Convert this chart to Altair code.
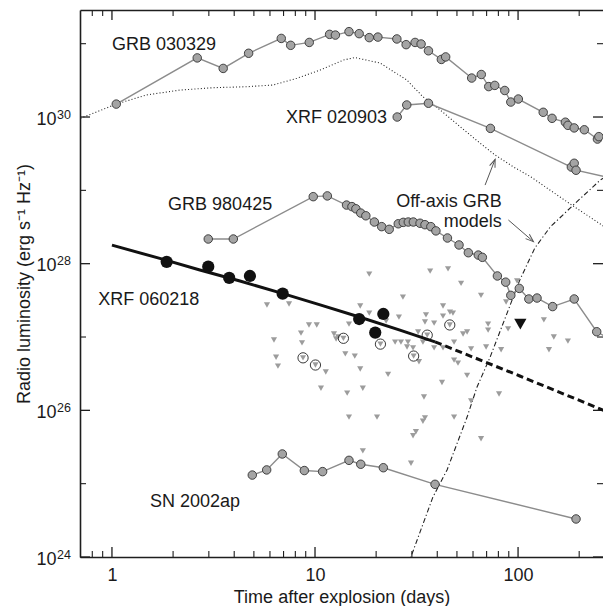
import altair as alt
import pandas as pd

FONT = "Liberation Sans"
W, H = 523, 547
X_DOMAIN = [0.696, 262]
Y_DOMAIN = [1e24, 2.88e31]

# ---------------- data (days, erg s^-1 Hz^-1) ----------------
grb030329_t = [1.05, 2.63, 3.53, 4.71, 6.82, 7.59, 9.37, 11.8, 12.6, 14.7,
               16.5, 18.5, 20.4, 25.3, 28.1, 31.1, 33.3, 36.2, 41.9, 44.0,
               59.1, 65.9, 71.7, 76.8, 86.0, 92.1, 100.3, 133, 147, 171,
               176, 189, 212, 246, 250, 318]
grb030329_L = [1.5e30, 6.4e30, 4.6e30, 7.4e30, 1.18e31, 9.5e30, 1.04e31, 1.34e31, 1.31e31, 1.46e31,
               1.37e31, 1.21e31, 1.23e31, 1.16e31, 9.7e30, 1.04e31, 9.9e30, 8.0e30, 6.1e30, 6.6e30,
               3.4e30, 3.8e30, 2.6e30, 2.7e30, 2.3e30, 1.6e30, 1.76e30, 1.16e30, 9.6e29, 8.5e29,
               7.7e29, 7.1e29, 6.7e29, 5.0e29, 5.4e29, 5.2e29]

xrf020903_t = [25.4, 28.3, 36.2, 73.1, 183, 189, 193, 318]
xrf020903_L = [1.0e30, 1.46e30, 1.54e30, 7.0e29, 2.08e29, 2.34e29, 1.88e29, 1.38e29]

grb980425_t = [2.98, 3.96, 9.8, 11.5, 14.3, 15.2, 15.9, 16.8, 17.8, 19.6,
               21.3, 23.2, 25.7, 27.2, 28.8, 30.5, 32.9, 34.8, 37.2, 39.4,
               44.9, 51.2, 56.9, 63.7, 66.7, 79.1, 86.9, 92.1, 101.4, 113,
               124, 148, 189, 244, 318]
grb980425_L = [2.17e28, 2.17e28, 8.2e28, 8.4e28, 6.3e28, 6.0e28, 5.6e28, 4.9e28, 4.5e28, 3.7e28,
               3.2e28, 2.94e28, 3.5e28, 3.66e28, 3.7e28, 3.7e28, 3.56e28, 3.4e28, 3.2e28, 2.8e28,
               2.24e28, 1.8e28, 1.41e28, 1.31e28, 1.22e28, 6.8e27, 5.6e27, 3.7e27, 4.6e27, 3.3e27,
               3.4e27, 2.6e27, 3.3e27, 1.18e27, 7.8e26]

sn2002ap_t = [4.91, 5.78, 6.90, 8.86, 10.9, 14.7, 16.8, 21.7, 39.0, 193]
sn2002ap_L = [1.31e25, 1.54e25, 2.54e25, 1.51e25, 1.46e25, 2.08e25, 1.84e25, 1.65e25, 9.8e24, 3.3e24]

xrf060218_t = [1.86, 2.98, 3.78, 4.78, 6.93, 16.5, 21.7, 19.8]
xrf060218_L = [1.06e28, 9.1e27, 6.4e27, 6.8e27, 3.9e27, 1.76e27, 2.06e27, 1.15e27]

fit_solid_t = [1.0, 1.72, 2.71, 4.27, 6.96, 10.6, 16.7, 26.2, 39.0]
fit_solid_L = [1.79e28, 1.18e28, 8.2e27, 5.8e27, 3.9e27, 2.74e27, 1.86e27, 1.24e27, 8.6e26]
fit_dash_t = [39.0, 102, 318]
fit_dash_L = [8.6e26, 2.94e26, 8.1e25]

model_dot_t = [0.7, 1.05, 1.48, 2.16, 3.15, 4.61, 6.21, 8.13, 10.6, 13.8, 15.7,
               20.9, 28.3, 34.0, 41.3, 51.8, 65.0, 77.1, 94.5, 115, 187, 318]
model_dot_L = [9.6e29, 1.5e30, 2.0e30, 2.33e30, 2.51e30, 2.59e30, 2.73e30, 3.37e30, 4.37e30, 5.98e30, 6.47e30,
               5.45e30, 3.2e30, 1.89e30, 1.25e30, 7.4e29, 4.4e29, 3.03e29, 2.1e29, 1.54e29, 6.1e28, 2.31e28]

model_dashdot_t = [28.7, 38.1, 44.7, 56.1, 62.8, 72.8, 88.3, 102, 121, 144, 187, 254, 318]
model_dashdot_L = [7.8e23, 6.6e24, 1.54e25, 8.1e25, 2.08e26, 5.3e26, 2.12e27, 6.0e27, 1.64e28, 3.16e28, 6.3e28, 1.38e29, 2.02e29]

limits_t = [5.80, 7.45, 6.28, 8.53, 8.63, 6.43, 6.57, 9.34, 10.2, 12.4,
            13.0, 14.7, 16.7, 18.5, 18.5, 27.1, 25.9, 22.4, 24.8, 26.5,
            28.7, 30.4, 32.2, 34.8, 35.2, 38.6, 42.7, 46.2, 47.8, 42.7,
            34.0, 38.6, 42.7, 48.4, 48.4, 50.6, 14.1, 15.7, 16.7, 11.3,
            10.7, 14.4, 17.2, 22.9, 14.7, 20.2, 34.4, 34.8, 34.0, 31.4,
            30.4, 42.2, 48.4, 17.2, 29.7, 36.9, 45.2, 52.4, 65.7, 87.3,
            98.9, 71.2, 71.2, 89.3, 56.1, 53.6, 134, 150, 176, 142,
            69.6, 58.7, 82.5, 28.4, 32.5, 56.1, 58.7, 80.6, 65.7, 12.7]
limits_L = [2.73e27, 2.82e27, 9.1e26, 1.13e27, 8.3e26, 5.3e26, 4.0e26, 1.46e27, 1.46e27, 1.10e27,
            1.0e27, 1.50e27, 2.65e27, 2.12e27, 7.2e27, 3.5e27, 1.87e27, 1.65e27, 8.5e26, 8.5e26,
            8.5e26, 7.1e26, 1.17e27, 1.60e27, 2.0e27, 1.55e27, 2.65e27, 2.19e27, 2.12e27, 1.93e27,
            8.5e26, 7.1e26, 7.1e26, 8.5e26, 4.85e26, 4.4e26, 5.9e26, 5.5e26, 3.66e26, 3.33e26,
            2.0e26, 1.72e26, 2.0e26, 3.1e26, 8.1e25, 8.1e25, 1.52e26, 7.9e25, 7.1e25, 5.1e25,
            4.5e25, 2.4e26, 8.1e25, 2.8e25, 1.9e25, 7.9e27, 8.5e27, 5.4e27, 3.7e27, 3.0e27,
            5.8e27, 1.50e27, 1.24e27, 1.29e27, 1.17e27, 1.10e27, 1.71e27, 1.0e27, 8.8e26, 6.7e26,
            7.3e26, 6.9e26, 6.7e26, 7.3e26, 4.6e26, 3.0e26, 1.34e26, 1.67e26, 4.1e25, 9.4e26]

circled_t = [8.73, 10.05, 13.8, 21.0, 30.6, 35.7, 46.1]
circled_L = [5.2e26, 4.15e26, 9.6e26, 8.0e26, 5.5e26, 1.06e27, 1.46e27]

big_limit_t = [102.6]
big_limit_L = [1.5e27]

label_text = ["GRB 030329", "XRF 020903", "GRB 980425", "XRF 060218", "SN 2002ap"]
label_t = [1.0, 7.2, 1.89, 0.856, 1.54]
label_L = [8.2e30, 8.2e29, 5.4e28, 2.73e27, 4.85e24]

note_text = ["Off-axis GRB", "models"]
note_t = [83.2, 83.2]
note_L = [5.98e28, 3.19e28]

arrow_tail_t = [68.8, 89.6]
arrow_tail_L = [1.18e29, 3.94e28]
arrow_tip_t = [77.1, 119]
arrow_tip_L = [2.65e29, 2.0e28]
arrow_angle = [21, 131]

x_major = [1, 10, 100]
x_minor = [0.8, 0.9, 2, 3, 4, 5, 6, 7, 8, 9, 20, 30, 40, 50, 60, 70, 80, 90, 200]
x_labels = ["1", "10", "100"]
y_major = [1e24, 1e26, 1e28, 1e30]
y_minor = [1e25, 1e27, 1e29, 1e31]
y_label_base = "10"
y_label_exp = ["24", "26", "28", "30"]

# ---------------- styling ----------------
AXC = "#1e1e1e"
GRAY_LINE = "#8c8c8c"
GRAY_FILL = "#a4a4a4"
TRI_FILL = "#9c9c9c"
TXT = "#1a1a1a"

xs = alt.Scale(type="log", domain=X_DOMAIN, nice=False)
ys = alt.Scale(type="log", domain=Y_DOMAIN, nice=False)


def X(field="t", axis=None):
    return alt.X(f"{field}:Q", scale=xs, axis=axis)


def Y(field="L", axis=None):
    return alt.Y(f"{field}:Q", scale=ys, axis=axis)


def df(t, L):
    return pd.DataFrame({"t": t, "L": L})


layers = []

# model curves
layers.append(alt.Chart(df(model_dot_t, model_dot_L)).mark_line(
    color="#222", strokeWidth=1.1, strokeDash=[1, 2.2], clip=True).encode(x=X(), y=Y()))
layers.append(alt.Chart(df(model_dashdot_t, model_dashdot_L)).mark_line(
    color="#222", strokeWidth=1.1, strokeDash=[5, 2.5, 1.2, 2.5], clip=True).encode(x=X(), y=Y()))

# gray light curves
for t, L in [(grb030329_t, grb030329_L), (xrf020903_t, xrf020903_L),
             (grb980425_t, grb980425_L), (sn2002ap_t, sn2002ap_L)]:
    d = df(t, L)
    layers.append(alt.Chart(d).mark_line(color=GRAY_LINE, strokeWidth=1.4, clip=True)
                  .encode(x=X(), y=Y()))
    layers.append(alt.Chart(d).mark_circle(fill=GRAY_FILL, stroke="#333", strokeWidth=0.9,
                                           size=72, opacity=1, clip=True)
                  .encode(x=X(), y=Y()))

# upper limits
layers.append(alt.Chart(df(limits_t, limits_L)).mark_point(
    shape="triangle-down", filled=True, color=TRI_FILL, size=38, opacity=1, clip=True)
    .encode(x=X(), y=Y()))
layers.append(alt.Chart(df(circled_t, circled_L)).mark_point(
    shape="triangle-down", filled=True, color=TRI_FILL, size=38, opacity=1, clip=True)
    .encode(x=X(), y=Y()))
layers.append(alt.Chart(df(circled_t, circled_L)).mark_point(
    shape="circle", filled=False, color="#222", strokeWidth=0.9, size=105, opacity=1, clip=True)
    .encode(x=X(), y=Y()))

# XRF 060218 fit + data
layers.append(alt.Chart(df(fit_solid_t, fit_solid_L)).mark_line(
    color="#111", strokeWidth=3, clip=True).encode(x=X(), y=Y()))
layers.append(alt.Chart(df(fit_dash_t, fit_dash_L)).mark_line(
    color="#111", strokeWidth=3, strokeDash=[7, 4], clip=True).encode(x=X(), y=Y()))
layers.append(alt.Chart(df(xrf060218_t, xrf060218_L)).mark_circle(
    color="#111", size=150, opacity=1, clip=True).encode(x=X(), y=Y()))
layers.append(alt.Chart(df(big_limit_t, big_limit_L)).mark_point(
    shape="triangle-down", filled=True, color="#111", size=150, opacity=1, clip=True)
    .encode(x=X(), y=Y()))

# arrows
arrows = pd.DataFrame({"t0": arrow_tail_t, "L0": arrow_tail_L,
                       "t": arrow_tip_t, "L": arrow_tip_L, "ang": arrow_angle})
layers.append(alt.Chart(arrows).mark_rule(color="#555", strokeWidth=1).encode(
    x=X("t0"), y=Y("L0"), x2="t:Q", y2="L:Q"))
layers.append(alt.Chart(arrows).mark_point(
    shape="M -0.55 1.5 L 0 0 L 0.55 1.5", filled=False, color="#555",
    strokeWidth=1, size=110, opacity=1).encode(
    x=X(), y=Y(), angle=alt.Angle("ang:Q", scale=None)))

# labels
labels = pd.DataFrame({"t": label_t, "L": label_L, "txt": label_text})
layers.append(alt.Chart(labels).mark_text(
    font=FONT, fontSize=18, align="left", baseline="alphabetic", color=TXT)
    .encode(x=X(), y=Y(), text="txt:N"))
notes = pd.DataFrame({"t": note_t, "L": note_L, "txt": note_text})
layers.append(alt.Chart(notes).mark_text(
    font=FONT, fontSize=18, align="right", baseline="alphabetic", color=TXT)
    .encode(x=X(), y=Y(), text="txt:N"))

# ---------------- axes and inward ticks ----------------
x_label_expr = "[" + ",".join(f"'{s}'" for s in x_labels) + "][round(log(datum.value)/LN10)]"

bottom_axis = alt.Axis(orient="bottom", values=x_major, labelExpr=x_label_expr,
                       ticks=False, tickSize=0, domain=True, domainColor=AXC, domainWidth=1.6,
                       grid=False, labelFont=FONT, labelFontSize=18, labelColor=TXT,
                       labelPadding=9, title="Time after explosion (days)",
                       titleFont=FONT, titleFontSize=18, titleFontWeight="normal",
                       titleColor=TXT, titleY=45, titleBaseline="alphabetic")
top_axis = alt.Axis(orient="top", labels=False, ticks=False, tickSize=0, domain=True,
                    domainColor=AXC, domainWidth=1.6, grid=False, title=None)
left_axis = alt.Axis(orient="left", values=y_major, labelExpr=f"'{y_label_base}'",
                     ticks=False, tickSize=0, domain=True, domainColor=AXC, domainWidth=1.6,
                     grid=False, labelFont=FONT, labelFontSize=18, labelColor=TXT,
                     labelPadding=24, labelBaseline="middle", labelOffset=2,
                     title="Radio luminosity (erg s⁻¹ Hz⁻¹)",
                     titleFont=FONT, titleFontSize=18, titleFontWeight="normal",
                     titleColor=TXT, titleX=-51, titleY=H / 2, titleAngle=270,
                     titleAlign="center", titleBaseline="alphabetic")

xmaj = pd.DataFrame({"t": x_major})
xmin = pd.DataFrame({"t": x_minor})
ymaj = pd.DataFrame({"L": y_major, "e": y_label_exp})
ymin = pd.DataFrame({"L": y_minor})

tick_layers = [
    alt.Chart(ymaj).mark_rule(color=AXC, strokeWidth=1.3).encode(
        y=Y(axis=left_axis), x=alt.value(0), x2=alt.value(10)),
    alt.Chart(xmaj).mark_rule(color=AXC, strokeWidth=1.3).encode(
        x=X(axis=bottom_axis), y=alt.value(H), y2=alt.value(H - 10)),
    alt.Chart(xmin).mark_rule(color=AXC, strokeWidth=1.1).encode(
        x=X(), y=alt.value(H), y2=alt.value(H - 6)),
    alt.Chart(xmaj).mark_rule(color=AXC, strokeWidth=1.3).encode(
        x=X(axis=top_axis), y=alt.value(0), y2=alt.value(10)),
    alt.Chart(xmin).mark_rule(color=AXC, strokeWidth=1.1).encode(
        x=X(), y=alt.value(0), y2=alt.value(6)),
    alt.Chart(ymin).mark_rule(color=AXC, strokeWidth=1.1).encode(
        y=Y(), x=alt.value(0), x2=alt.value(6)),
    alt.Chart(ymaj).mark_rule(color=AXC, strokeWidth=1.3).encode(
        y=Y(), x=alt.value(W), x2=alt.value(W - 10)),
    alt.Chart(ymin).mark_rule(color=AXC, strokeWidth=1.1).encode(
        y=Y(), x=alt.value(W), x2=alt.value(W - 6)),
    # exponents of the y tick labels (10^n)
    alt.Chart(ymaj).mark_text(font=FONT, fontSize=12.5, align="left", baseline="alphabetic",
                              color=TXT, dy=1.5).encode(
        y=Y(), x=alt.value(-23), text="e:N"),
]

chart = alt.layer(*tick_layers, *layers).resolve_axis(
    x="independent", y="independent").properties(
    width=W, height=H,
    autosize=alt.AutoSizeParams(type="none"),
    padding={"left": 72, "top": 2, "right": 0, "bottom": 49},
    background="white",
).configure_view(strokeWidth=0)

chart.save("out.html", embed_options={"renderer": "svg", "actions": False})
